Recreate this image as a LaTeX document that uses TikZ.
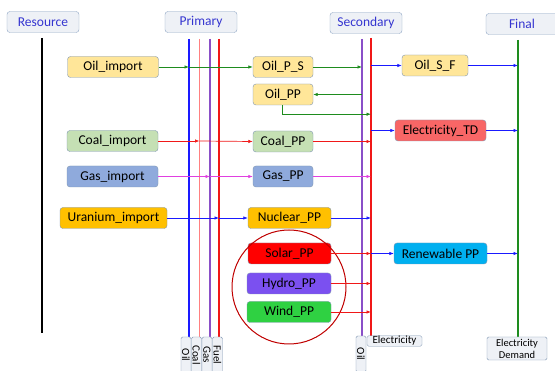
\documentclass[tikz,border=0pt]{standalone}
\usepackage{fontspec}
\setmainfont{Carlito}
\usetikzlibrary{arrows.meta}

\definecolor{hdrline}{HTML}{8EA6C4}
\definecolor{hdrfill}{HTML}{EEF1F6}
\definecolor{hdrtext}{HTML}{3535D0}
\definecolor{boxline}{HTML}{7F96B2}
\definecolor{oilfill}{HTML}{FFE699}
\definecolor{coalfill}{HTML}{C5E0B4}
\definecolor{gasfill}{HTML}{8FAADC}
\definecolor{urfill}{HTML}{FFC000}
\definecolor{elecfill}{HTML}{F86666}
\definecolor{solarfill}{HTML}{FF0000}
\definecolor{hydrofill}{HTML}{7B50F0}
\definecolor{windfill}{HTML}{2FD142}
\definecolor{renfill}{HTML}{00B0F0}
\definecolor{lblue}{HTML}{1A1AFF}
\definecolor{lpink}{HTML}{FF8080}
\definecolor{lpurple}{HTML}{8A4FC8}
\definecolor{lred}{HTML}{F01818}
\definecolor{lgreen}{HTML}{1E8C1E}
\definecolor{lmagenta}{HTML}{E040E0}
\definecolor{ringred}{HTML}{C00000}

\tikzset{
  hdr/.style={draw=hdrline, fill=hdrfill, rounded corners=3pt, minimum width=72pt,
    minimum height=21pt, text=hdrtext, font=\fontsize{13.5}{15}\selectfont},
  box/.style={draw=boxline, rounded corners=3pt, minimum height=21pt,
    font=\fontsize{13.5}{15}\selectfont, inner sep=1pt},
  tag/.style={draw=boxline, fill=hdrfill, rounded corners=1.5pt,
    font=\fontsize{11}{11}\selectfont, inner sep=0.5pt},
  flow/.style={-{Latex[length=4.5pt,width=3.5pt]}, line width=0.7pt},
  bus/.style={line width=1.1pt},
}

\begin{document}
\begin{tikzpicture}[x=1pt, y=-1pt]
    \useasboundingbox[fill=white] (0,0) rectangle (555,371);

    % headers
    \node[hdr] at (43,22) (res) {Resource};
    \node[hdr] at (201,22) (pri) {Primary};
    \node[hdr] at (366,23) (sec) {Secondary};
    \node[hdr] at (522,24) (fin) {Final};

    % bus lines
    \coordinate (pb) at (189,0);
    \coordinate (pp) at (199.5,0);
    \coordinate (pv) at (210,0);
    \coordinate (pr) at (219,0);
    \coordinate (sv) at (362,0);
    \coordinate (sr) at (371,0);
    \coordinate (fg) at (518,0);
    \draw[bus, black] (42,38) -- (42,333);
    \draw[bus, lblue] (189,39) -- (189,338);
    \draw[bus, lpink] (199.5,39) -- (199.5,338);
    \draw[bus, lpurple] (210,39) -- (210,338);
    \draw[bus, lred] (219,39) -- (219,338);
    \draw[bus, lpurple] (362,39) -- (362,337);
    \draw[bus, lred] (371,38) -- (371,337);
    \draw[bus, lgreen] (518,40) -- (518,338);

    % bus tags
    \node[tag, rotate=-90, minimum width=36pt, minimum height=10pt] at (186,355) (tOil) {Oil};
    \node[tag, rotate=-90, minimum width=36pt, minimum height=10pt] at (196.5,355) (tCoal) {Coal};
    \node[tag, rotate=-90, minimum width=36pt, minimum height=10pt] at (207,355) (tGas) {Gas};
    \node[tag, rotate=-90, minimum width=36pt, minimum height=10pt] at (217.5,355) (tFuel) {Fuel};
    \node[tag, rotate=-90, minimum width=36pt, minimum height=10pt] at (361,354) (tOil2) {Oil};
    \node[tag, minimum width=55pt, minimum height=10pt] at (394.5,341) (tElec) {Electricity};
    \node[tag, minimum width=60pt, minimum height=23pt, align=center,
      font=\fontsize{10.5}{12}\selectfont] at (517,348.5) (tDem) {Electricity\\Demand};

    % technologies
    \node[box, fill=oilfill, minimum width=91pt] at (113,67) (oilImp) {Oil\_import};
    \node[box, fill=oilfill, minimum width=60pt] at (283,67) (oilPS) {Oil\_P\_S};
    \node[box, fill=oilfill, minimum width=60pt] at (283,94.5) (oilPP) {Oil\_PP};
    \node[box, fill=oilfill, minimum width=66pt] at (435,65.5) (oilSF) {Oil\_S\_F};
    \node[box, fill=elecfill, minimum width=91pt] at (440.5,130.5) (elecTD) {Electricity\_TD};
    \node[box, fill=coalfill, minimum width=91pt] at (112.5,141) (coalImp) {Coal\_import};
    \node[box, fill=coalfill, minimum width=60pt] at (283,141.5) (coalPP) {Coal\_PP};
    \node[box, fill=gasfill, minimum width=91pt] at (112.5,176.5) (gasImp) {Gas\_import};
    \node[box, fill=gasfill, minimum width=60pt] at (283,176.5) (gasPP) {Gas\_PP};
    \node[box, fill=urfill, minimum width=107pt] at (113.5,218) (urImp) {Uranium\_import};
    \node[box, fill=urfill, minimum width=83pt] at (289.5,218) (nucPP) {Nuclear\_PP};
    \node[box, fill=solarfill, minimum width=83pt] at (289.5,253.5) (solPP) {Solar\_PP};
    \node[box, fill=hydrofill, minimum width=84pt] at (289,283.5) (hydPP) {Hydro\_PP};
    \node[box, fill=windfill, minimum width=84pt] at (289,312) (winPP) {Wind\_PP};
    \node[box, fill=renfill, minimum width=93pt] at (440.5,253.5) (renPP) {Renewable PP};

    \draw[ringred, line width=1pt] (289,287) circle (57);

    % oil chain
    \draw[flow, lgreen] (oilImp.east) -- (oilImp.east -| pb);
    \draw[flow, lgreen] (oilImp.east -| pb) -- (oilPS.west);
    \draw[flow, lgreen] (oilPS.east) -- (oilPS.east -| sv);
    \draw[flow, lgreen] (oilPP.east -| sv) -- (oilPP.east);
    \draw[flow, lgreen] ([xshift=-1pt]oilPP.south) |- ([yshift=-9pt]oilPP.south -| sr);
    \draw[flow, lblue] (oilSF.west -| sr) -- (oilSF.west);
    \draw[flow, lblue] (oilSF.east) -- (oilSF.east -| fg);

    % electricity
    \draw[flow, lblue] (elecTD.west -| sr) -- (elecTD.west);
    \draw[flow, lblue] (elecTD.east) -- (elecTD.east -| fg);
    \draw[flow, lred] (coalImp.east) -- (coalImp.east -| pp);
    \draw[flow, lred] (coalImp.east -| pp) -- (coalPP.west);
    \draw[flow, lred] (coalPP.east) -- (coalPP.east -| sr);
    \draw[flow, lmagenta] (gasImp.east) -- (gasImp.east -| pv);
    \draw[flow, lmagenta] (gasImp.east -| pv) -- (gasPP.west);
    \draw[flow, lmagenta] (gasPP.east) -- (gasPP.east -| sr);
    \draw[flow, lblue] (urImp.east) -- (urImp.east -| pr);
    \draw[flow, lblue] (urImp.east -| pr) -- (nucPP.west);
    \draw[flow, lblue] (nucPP.east) -- (nucPP.east -| sr);

    % renewables
    \draw[flow, lred] (solPP.east) -- (solPP.east -| sr);
    \draw[flow, lred] (hydPP.east) -- (hydPP.east -| sr);
    \draw[flow, lred] (winPP.east) -- (winPP.east -| sr);
    \draw[flow, lblue] (renPP.west -| sr) -- (renPP.west);
    \draw[flow, lblue] (renPP.east) -- (renPP.east -| fg);
\end{tikzpicture}
\end{document}
